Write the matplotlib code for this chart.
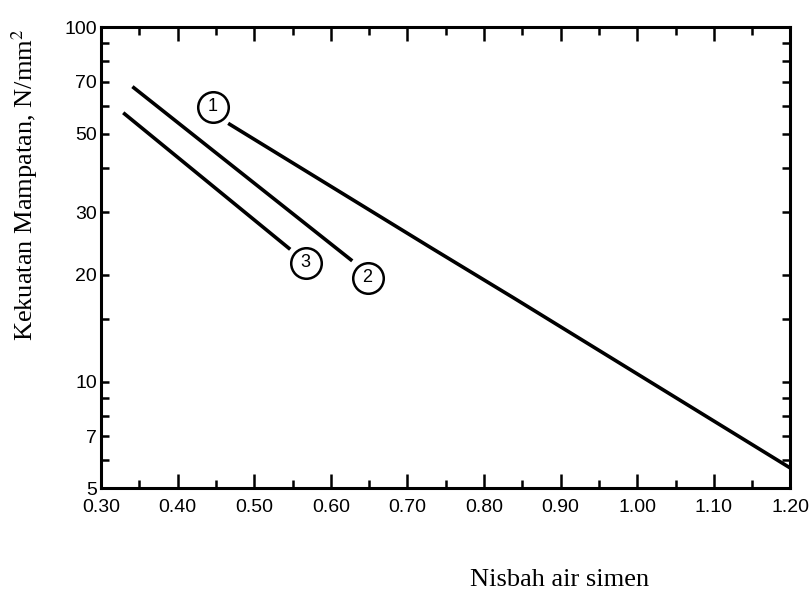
import matplotlib.pyplot as plt
import numpy as np
from matplotlib.ticker import FixedLocator, NullFormatter, MultipleLocator

plt.rcParams['mathtext.fontset'] = 'stix'

# ------------------------------------------------------------------
# data (log y axis)
# ------------------------------------------------------------------
line1_x = [0.466, 0.730, 0.839, 1.20]
line1_y = [53.5, 23.9, 17.2, 5.7]

line2_x = [0.341, 0.628]
line2_y = [67.9, 21.9]

line3_x = [0.329, 0.547]
line3_y = [57.3, 23.6]

tag_names = ['1', '2', '3']
tag_x = [0.446, 0.648, 0.567]
tag_y = [59.6, 19.6, 21.6]

x_ticks = [0.30, 0.40, 0.50, 0.60, 0.70, 0.80, 0.90, 1.00, 1.10, 1.20]
x_ticklabels = ['0.30', '0.40', '0.50', '0.60', '0.70', '0.80', '0.90', '1.00', '1.10', '1.20']
y_ticks = [5, 7, 10, 20, 30, 50, 70, 100]
y_minor = [6, 8, 9, 15, 40, 60, 80, 90]

tick_font = ['Liberation Sans', 'DejaVu Sans']
label_font = ['Liberation Serif', 'DejaVu Serif']

# ------------------------------------------------------------------
fig = plt.figure(figsize=(8.12, 5.94), dpi=100)
ax = fig.add_axes([0.1244, 0.178, 0.849, 0.7765])

ax.set_yscale('log')
ax.set_xlim(0.30, 1.20)
ax.set_ylim(5, 100)

for xs, ys in [(line1_x, line1_y), (line2_x, line2_y), (line3_x, line3_y)]:
    ax.plot(xs, ys, color='black', lw=2.6, solid_capstyle='butt')

# circled curve numbers
for name, x, y in zip(tag_names, tag_x, tag_y):
    ax.plot(x, y, marker='o', ms=22, mfc='white', mec='black', mew=1.8, zorder=5)
    ax.text(x, y, name, ha='center', va='center', fontsize=13,
            family=tick_font, zorder=6)

# ticks
ax.xaxis.set_major_locator(FixedLocator(x_ticks))
ax.xaxis.set_minor_locator(MultipleLocator(0.05))
ax.set_xticklabels(x_ticklabels, family=tick_font, fontsize=14)

ax.yaxis.set_major_locator(FixedLocator(y_ticks))
ax.yaxis.set_minor_locator(FixedLocator(y_minor))
ax.yaxis.set_minor_formatter(NullFormatter())
ax.set_yticklabels([str(v) for v in y_ticks], family=tick_font, fontsize=14)

ax.tick_params(which='both', direction='in', top=True, right=True, width=1.8)
ax.tick_params(axis='x', which='major', length=10, pad=8)
ax.tick_params(axis='x', which='minor', length=6)
ax.tick_params(axis='y', which='both', length=6, pad=3)

for sp in ax.spines.values():
    sp.set_linewidth(2.2)

# axis titles
fig.text(25 / 812, 1 - 185 / 594, 'Kekuatan Mampatan, N/mm$^2$', rotation=90,
         ha='center', va='center', fontsize=19, family=label_font)
fig.text(560 / 812, 1 - 580 / 594, 'Nisbah air simen',
         ha='center', va='center', fontsize=19, family=label_font)

fig.savefig('out.png', dpi=100)
